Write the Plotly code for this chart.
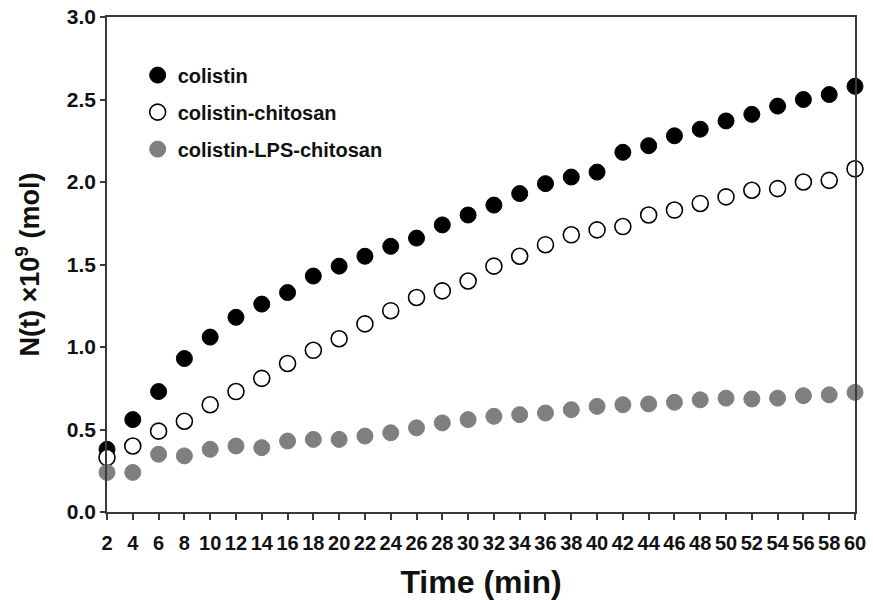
import plotly.graph_objects as go

# Sampling times (min)
time_min = [2, 4, 6, 8, 10, 12, 14, 16, 18, 20, 22, 24, 26, 28, 30,
            32, 34, 36, 38, 40, 42, 44, 46, 48, 50, 52, 54, 56, 58, 60]

# N(t) x 10^9 (mol) for each formulation
colistin = [0.38, 0.56, 0.73, 0.93, 1.06, 1.18, 1.26, 1.33, 1.43, 1.49,
            1.55, 1.61, 1.66, 1.74, 1.80, 1.86, 1.93, 1.99, 2.03, 2.06,
            2.18, 2.22, 2.28, 2.32, 2.37, 2.41, 2.46, 2.50, 2.53, 2.58]
colistin_chitosan = [0.33, 0.40, 0.49, 0.55, 0.65, 0.73, 0.81, 0.90, 0.98, 1.05,
                     1.14, 1.22, 1.30, 1.34, 1.40, 1.49, 1.55, 1.62, 1.68, 1.71,
                     1.73, 1.80, 1.83, 1.87, 1.91, 1.95, 1.96, 2.00, 2.01, 2.08]
colistin_lps_chitosan = [0.24, 0.24, 0.35, 0.34, 0.38, 0.40, 0.39, 0.43, 0.44, 0.44,
                         0.46, 0.48, 0.51, 0.54, 0.56, 0.58, 0.59, 0.60, 0.62, 0.64,
                         0.65, 0.655, 0.665, 0.68, 0.69, 0.685, 0.69, 0.705, 0.71, 0.725]

x_ticks = list(range(2, 61, 2))
y_ticks = [0.0, 0.5, 1.0, 1.5, 2.0, 2.5, 3.0]

AXIS_COLOR = "#3a3a3a"
TEXT_COLOR = "#111111"
BOLD = "Liberation Sans, Arial, sans-serif"

fig = go.Figure()

series = [
    ("colistin", colistin, dict(color="#000000", line=dict(color="#000000", width=1))),
    ("colistin-chitosan", colistin_chitosan, dict(color="#ffffff", line=dict(color="#000000", width=1.6))),
    ("colistin-LPS-chitosan", colistin_lps_chitosan, dict(color="#7f7f7f", line=dict(color="#7f7f7f", width=1))),
]
for name, values, mk in series:
    fig.add_trace(go.Scatter(
        x=time_min, y=values, name=name, mode="markers",
        legendgroup=name, cliponaxis=False,
        marker=dict(symbol="circle", size=16, **mk),
    ))

fig.update_layout(
    width=873, height=600,
    margin=dict(l=107, r=18, t=17, b=88),
    paper_bgcolor="white", plot_bgcolor="white",
    showlegend=True,
    legend=dict(
        x=0.041, y=0.922, xanchor="left", yanchor="top",
        bgcolor="rgba(0,0,0,0)", borderwidth=0,
        font=dict(family=BOLD, size=20, color=TEXT_COLOR, weight="bold"),
        tracegroupgap=8, itemsizing="trace",
    ),
    xaxis=dict(
        range=[2, 60], tickmode="array", tickvals=x_ticks,
        ticktext=[str(v) for v in x_ticks], automargin=False,
        showgrid=False, zeroline=False,
        showline=True, linecolor=AXIS_COLOR, linewidth=1.6, mirror=True,
        ticks="outside", ticklen=6, tickwidth=1.5, tickcolor=AXIS_COLOR,
        ticklabelstandoff=6,
        tickfont=dict(family=BOLD, size=20, color=TEXT_COLOR, weight="bold"),
        title=dict(text="Time (min)", standoff=22,
                   font=dict(family=BOLD, size=32, color=TEXT_COLOR, weight="bold")),
    ),
    yaxis=dict(
        range=[0, 3], tickmode="array", tickvals=y_ticks,
        ticktext=[f"{v:.1f}" for v in y_ticks], automargin=False,
        showgrid=False, zeroline=False,
        showline=True, linecolor=AXIS_COLOR, linewidth=1.6, mirror=True,
        ticks="outside", ticklen=5, tickwidth=1.5, tickcolor=AXIS_COLOR,
        tickfont=dict(family=BOLD, size=21, color=TEXT_COLOR, weight="bold"),
        title=dict(text="N(t) ×10<sup>9</sup> (mol)", standoff=19,
                   font=dict(family=BOLD, size=27, color=TEXT_COLOR, weight="bold")),
    ),
)

fig.write_html("out.html")
